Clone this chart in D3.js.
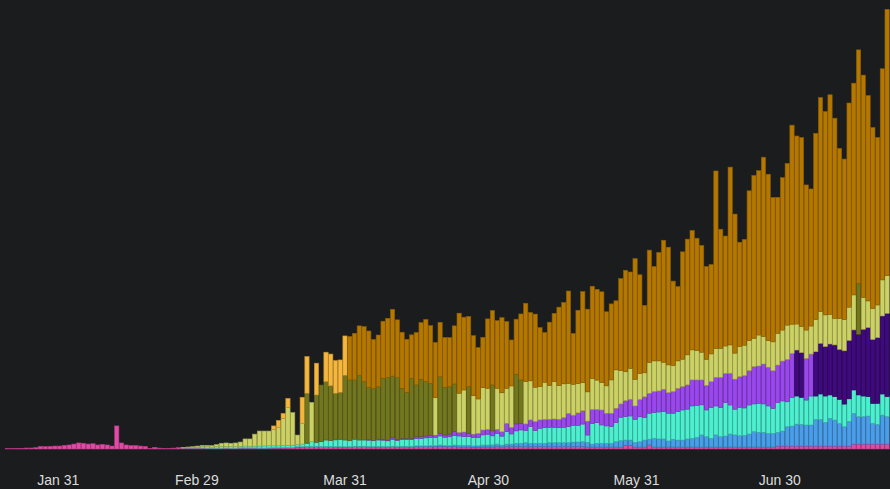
<!DOCTYPE html>
<html>
<head>
<meta charset="utf-8">
<script src="https://cdn.jsdelivr.net/npm/d3@7"></script>
<style>
html, body { margin:0; padding:0; background:#1b1c1e; overflow:hidden; }
#canvas { width:890px; height:489px; }
.axis text { fill:#dcdcdc; font-family:"Liberation Sans", Arial, sans-serif; font-size:14px; }
</style>
</head>
<body>
<div id="canvas" class="canvas"></div>
<script>
// daily new cases (thousands) by region, one value per day from Jan 20 to Jul 23
var days = d3.timeDay.range(new Date(2020,0,20), new Date(2020,6,24));

var westernPacific = [0.2,0.2,0.4,0.4,0.65,0.65,0.9,1.7,1.5,1.7,1.9,1.9,2.4,2.6,3.2,3.9,3.7,3.2,3.4,2.6,3.0,2.6,1.9,14.9,3.9,2.6,2.2,2.2,1.9,1.7,0.4,1.1,0.6,0.4,0.4,0.6,0.9,
  0.6,0.6,0.6,0.6,0.6,0.5,0.5,0.5,0.5,0.6,0.5,0.5,0.6,0.6,0.6,0.6,0.5,0.5,0.6,0.6,0.6,0.7,0.7,0.8,
  1.3,1.3,1.5,1.5,1.5,1.5,1.5,1.5,1.4,1.4,1.3,1.4,1.5,1.5,1.5,1.4,1.4,1.4,1.4,1.4,1.5,1.4,1.4,1.4,1.4,1.5,1.5,1.5,1.5,1.5,1.5,
  1.6,1.5,1.5,1.3,1.3,1.3,1.1,1.2,1.3,1.3,1.3,1.5,1.3,1.5,1.5,1.5,1.5,1.5,1.5,1.5,1.5,1.5,1.5,1.5,1.5,1.5,1.5,1.5,1.5,1.7,
  1.3,1.3,1.3,1.3,1.3,1.3,1.3,1.3,2.4,2.4,1.3,1.3,1.3,2.6,1.3,1.3,1.3,1.3,1.3,1.3,1.3,1.3,1.3,1.3,1.3,1.3,1.3,1.3,1.3,1.3,1.3,
  1.3,1.3,1.3,1.3,1.3,1.3,1.3,1.3,1.3,1.9,1.9,1.9,1.9,1.9,1.9,1.9,1.9,1.9,1.9,1.9,1.9,1.9,1.9,1.9,1.9,3.2,3.2,3.2,3.2,3.2,3.2,3.2,3.2,3.2];

var africa = [0,0,0,0,0,0,0,0,0,0,0,0,0,0,0,0,0,0,0,0,0,0,0,0,0,0,0,0,0,0,0,0,0,0,0,0,0,
  0,0,0,0,0,0,0,0,0,0,0,0,0.1,0.1,0.1,0.1,0.1,0.1,0.1,0.2,0.2,0.2,0.2,0.2,
  0.2,0.2,0.2,0.2,0.2,0.2,0.2,0.2,0.2,0.2,0.2,0.2,0.3,0.3,0.3,0.3,0.3,0.3,0.3,0.3,0.3,0.3,0.4,0.4,0.4,0.5,0.5,0.5,0.6,0.6,1.1,
  0.6,0.6,1.1,1.1,1.1,1.1,0.9,0.9,1.3,1.3,1.4,1.7,1.2,1.7,1.7,2.2,2.2,2.6,2.2,2.2,2.2,2.2,2.6,2.6,2.6,2.6,2.6,3.0,3.0,3.0,
  3.0,1.9,2.4,2.4,2.4,2.4,3.4,4.1,3.4,3.4,3.0,3.4,4.5,3.7,5.6,5.2,5.2,3.9,5.0,4.5,4.5,5.2,5.6,6.2,7.8,6.7,5.6,7.8,6.7,7.1,8.4,
  7.8,7.3,7.5,8.4,9.9,9.5,9.5,8.8,8.8,8.8,9.7,12.5,12.9,14.2,14.0,13.6,13.6,17.2,17.2,15.3,17.9,16.8,14.6,12.5,15.9,19.8,17.7,17.7,18.1,13.3,12.7,18.7,17.7];

var easternMed = [0,0,0,0,0,0,0,0,0,0,0,0,0,0,0,0,0,0,0,0,0,0,0,0,0,0,0,0,0,0,0,0,0,0,0,0,0,
  0.1,0.2,0.3,0.5,0.9,1.0,0.8,1.0,1.1,1.0,1.1,1.0,1.0,1.2,1.1,1.2,1.3,1.4,1.4,1.3,1.3,1.4,1.5,1.5,
  1.4,1.7,2.0,3.0,2.6,3.0,4.1,3.8,4.3,4.6,4.3,3.8,4.5,4.0,4.0,4.0,3.7,4.1,4.0,3.6,4.4,3.8,4.3,4.3,4.3,4.8,4.8,5.2,5.3,5.5,5.8,
  5.4,5.8,6.0,6.0,5.6,5.6,5.4,5.4,6.5,6.9,5.8,6.9,5.8,8.0,6.5,8.0,8.6,7.8,10.8,8.2,9.7,10.1,9.9,9.9,9.7,9.9,10.3,10.8,10.8,11.4,
  4.7,13.3,13.3,11.8,11.2,10.8,12.3,15.1,15.1,15.5,14.9,16.1,14.6,16.8,16.6,17.4,17.7,17.9,16.8,18.3,19.4,19.2,20.9,20.7,19.4,17.2,20.0,18.7,18.9,21.5,18.7,
  16.6,18.3,17.7,18.7,17.9,18.7,18.3,17.7,16.1,19.2,19.4,16.1,18.5,18.1,17.4,16.1,18.7,15.1,16.4,17.0,15.1,15.1,15.5,14.6,14.6,15.1,14.0,13.3,12.5,12.9,13.6,13.6,12.9];

var southEastAsia = [0,0,0,0,0,0,0,0,0,0,0,0,0,0,0,0,0,0,0,0,0,0,0,0,0,0,0,0,0,0,0,0,0,0,0,0,0,
  0,0,0,0,0,0,0,0,0,0,0,0,0,0,0,0,0,0,0,0,0,0,0,0,
  0,0,0,0,0,0,0,0,0,0,0,0,0,0,0,0.5,0.2,0.6,0.6,0.5,1.3,0.7,0.8,0.8,0.8,1.2,1.2,1.2,1.4,1.4,1.7,
  1.5,1.7,2.6,2.2,3.0,2.2,2.2,2.6,3.2,3.2,3.2,2.6,2.8,5.4,4.3,4.5,4.3,4.3,4.3,5.8,5.4,5.4,5.2,5.4,5.4,6.3,8.6,6.5,8.0,8.6,
  9.0,9.0,8.6,9.7,8.2,8.6,9.3,8.6,10.3,10.8,8.6,11.2,13.3,12.9,13.6,13.6,14.4,13.3,14.0,15.1,15.1,15.7,16.8,16.4,16.1,15.9,16.6,18.5,19.4,18.9,20.5,
  19.4,19.8,20.9,22.2,24.1,24.1,25.8,25.0,24.3,24.3,25.8,27.3,28.4,29.7,28.9,26.9,27.1,28.6,32.7,31.9,32.9,33.4,32.3,34.4,37.7,38.8,39.2,43.1,44.6,41.3,42.4,50.4,53.8];

var europe = [0,0,0,0,0,0,0,0,0,0,0,0,0,0,0,0,0,0,0,0,0,0,0,0,0,0,0,0,0,0,0,0,0,0,0,0,0,
  0.4,0.5,0.6,0.8,0.9,0.9,0.9,1.3,2.1,2.3,2.1,2.4,2.8,4.6,4.7,7.7,9.7,9.6,9.5,10.6,11.7,17.5,24.3,21.0,
  6.1,13.4,32.3,25.4,30.6,36.6,37.7,35.3,30.1,30.4,41.8,39.2,38.3,41.8,37.7,33.6,33.4,33.8,39.4,40.5,39.6,39.9,32.3,29.7,38.8,33.4,37.0,35.1,33.6,24.1,36.6,
  30.8,30.6,30.8,25.4,27.1,30.2,24.8,22.2,27.3,26.5,29.7,26.5,25.2,22.6,26.7,32.1,28.0,27.3,25.2,22.2,21.5,23.9,21.8,24.1,21.8,21.8,19.4,20.0,18.9,18.1,
  18.9,20.0,18.9,17.7,17.7,21.5,24.8,21.5,18.7,20.0,17.2,16.8,15.5,19.8,19.8,19.4,17.4,17.9,16.8,17.7,17.7,19.4,19.4,18.9,17.9,16.8,17.9,18.7,18.7,17.7,18.3,
  16.8,19.4,19.6,19.4,18.3,20.0,17.7,17.2,18.7,20.5,20.0,22.2,18.9,16.8,16.8,18.3,18.1,20.9,20.5,20.5,19.2,17.2,20.0,20.2,21.5,22.6,32.9,20.5,17.2,20.0,21.1,23.3,24.3];

var americas = [0,0,0,0,0,0,0,0,0,0,0,0,0,0,0,0,0,0,0,0,0,0,0,0,0,0,0,0,0,0,0,0,0,0,0,0,0,
  0,0,0,0,0,0,0,0,0,0,0,0,0,0,0,0,0,0,0,2.2,4.7,3.2,6.0,0,
  0,16.8,23.7,0,20.5,0,19.0,20.5,21.1,20.9,25.4,28.0,30.1,31.9,35.5,36.4,31.7,33.4,36.8,38.1,43.1,37.3,36.2,34.2,28.0,33.8,36.6,40.2,37.3,35.7,35.1,
  32.1,31.7,37.5,51.7,47.0,45.2,38.8,33.2,32.5,44.8,48.0,43.7,48.5,43.1,29.7,35.5,42.6,50.6,44.1,47.2,38.1,32.1,40.9,44.1,50.6,52.5,59.6,32.8,47.4,58.8,
  53.4,59.6,58.6,58.6,47.8,49.1,44.6,59.4,65.5,62.2,77.9,63.7,43.5,72.6,60.9,70.0,78.8,76.0,54.5,48.0,69.3,74.7,77.1,72.6,68.9,59.9,57.7,114.5,76.9,71.0,114.8,
  89.8,67.4,68.3,96.7,105.1,106.1,115.8,107.4,93.2,87.8,98.4,104.4,128.5,121.4,122.1,93.7,88.5,120.1,138.2,131.3,141.7,129.2,109.8,103.6,131.8,136.7,150.7,143.6,132.6,116.9,108.1,136.3,172.0];

// days drawn in the alternate shade of a region
var paleAmericasDays = ['2020-03-16','2020-03-17','2020-03-18','2020-03-19','2020-03-22','2020-03-23','2020-03-25',
  '2020-03-27','2020-03-28','2020-03-29','2020-03-30','2020-03-31'];
var darkEuropeDays = ['2020-03-23','2020-03-25','2020-03-26','2020-03-27','2020-03-28','2020-03-29','2020-03-30','2020-03-31',
  '2020-04-01','2020-04-02','2020-04-03','2020-04-04','2020-04-05','2020-04-06','2020-04-07','2020-04-08','2020-04-09',
  '2020-04-10','2020-04-11','2020-04-12','2020-04-13','2020-04-14','2020-04-15','2020-04-16','2020-04-17','2020-04-18',
  '2020-04-20','2020-04-21','2020-04-22','2020-04-23','2020-04-26','2020-05-01','2020-05-06','2020-05-07','2020-07-17'];
var darkSEAsiaDays = ['2020-07-04','2020-07-05','2020-07-08','2020-07-09','2020-07-10','2020-07-11','2020-07-12','2020-07-13',
  '2020-07-14','2020-07-15','2020-07-16','2020-07-17','2020-07-18','2020-07-19','2020-07-20','2020-07-21','2020-07-22','2020-07-23'];

var tickDays = ['2020-01-31','2020-02-29','2020-03-31','2020-04-30','2020-05-31','2020-06-30'];

var keys = ['westernPacific','africa','easternMed','southEastAsia','europe','americas'];
var colors = ['#e04ba6','#4a9de8','#4cefcf','#9a48ee','#cbd164','#b47700'];
var altColors = [null, null, null, '#3e0a7c', '#72771f', '#f5b63e'];

var fmt = d3.timeFormat('%Y-%m-%d');
var parseDay = d3.timeParse('%Y-%m-%d');
var altDays = [null, null, null, new Set(darkSEAsiaDays), new Set(darkEuropeDays), new Set(paleAmericasDays)];

var table = days.map(function(d,i){
    return {
        day: d,
        westernPacific: westernPacific[i],
        africa: africa[i],
        easternMed: easternMed[i],
        southEastAsia: southEastAsia[i],
        europe: europe[i],
        americas: americas[i]
    };
});

//margin convention
var m = {t:9.3, r:0.75, b:40, l:5.25};
var outerWidth = 890, outerHeight = 489;
var w = outerWidth - m.l - m.r,
    h = outerHeight - m.t - m.b;

var plot = d3.select('.canvas')
    .append('svg')
    .attr('width', outerWidth)
    .attr('height', outerHeight)
    .append('g')
    .attr('transform', 'translate(' + m.l + ',' + m.t + ')');

var series = d3.stack().keys(keys)(table);

var scaleX = d3.scaleBand()
    .domain(days)
    .range([0, w])
    .paddingInner(0.1);

var scaleT = d3.scaleTime()
    .domain([days[0], days[days.length - 1]])
    .range([0, w]);

var scaleY = d3.scaleLinear()
    .domain([0, d3.max(series[series.length - 1], function(d){ return d[1]; })])
    .range([h, 0]);

function fillFor(k, d){
    if (altDays[k] && altDays[k].has(fmt(d.data.day))) return altColors[k];
    return colors[k];
}

var layers = plot.selectAll('.layer')
    .data(series)
    .enter()
    .append('g')
    .attr('class', 'layer');

layers.selectAll('rect')
    .data(function(s, k){ return s.map(function(d){ d.k = k; return d; }).filter(function(d){ return d[1] > d[0]; }); })
    .enter()
    .append('rect')
    .attr('x', function(d){ return scaleX(d.data.day); })
    .attr('width', scaleX.bandwidth())
    .attr('y', function(d){ return scaleY(d[1]); })
    .attr('height', function(d){ return scaleY(d[0]) - scaleY(d[1]); })
    .attr('fill', function(d){ return fillFor(d.k, d); })
    .attr('stroke', function(d){ return d3.color(fillFor(d.k, d)).darker(0.7); })
    .attr('stroke-width', 0.6);

var axisX = d3.axisBottom()
    .scale(scaleT)
    .tickValues(tickDays.map(parseDay))
    .tickFormat(d3.timeFormat('%b %-d'))
    .tickSize(0)
    .tickPadding(26);

var gx = plot.append('g')
    .attr('class', 'axis axis-x')
    .attr('transform', 'translate(0,' + h + ')')
    .call(axisX);
gx.select('.domain').remove();
</script>
</body>
</html>
